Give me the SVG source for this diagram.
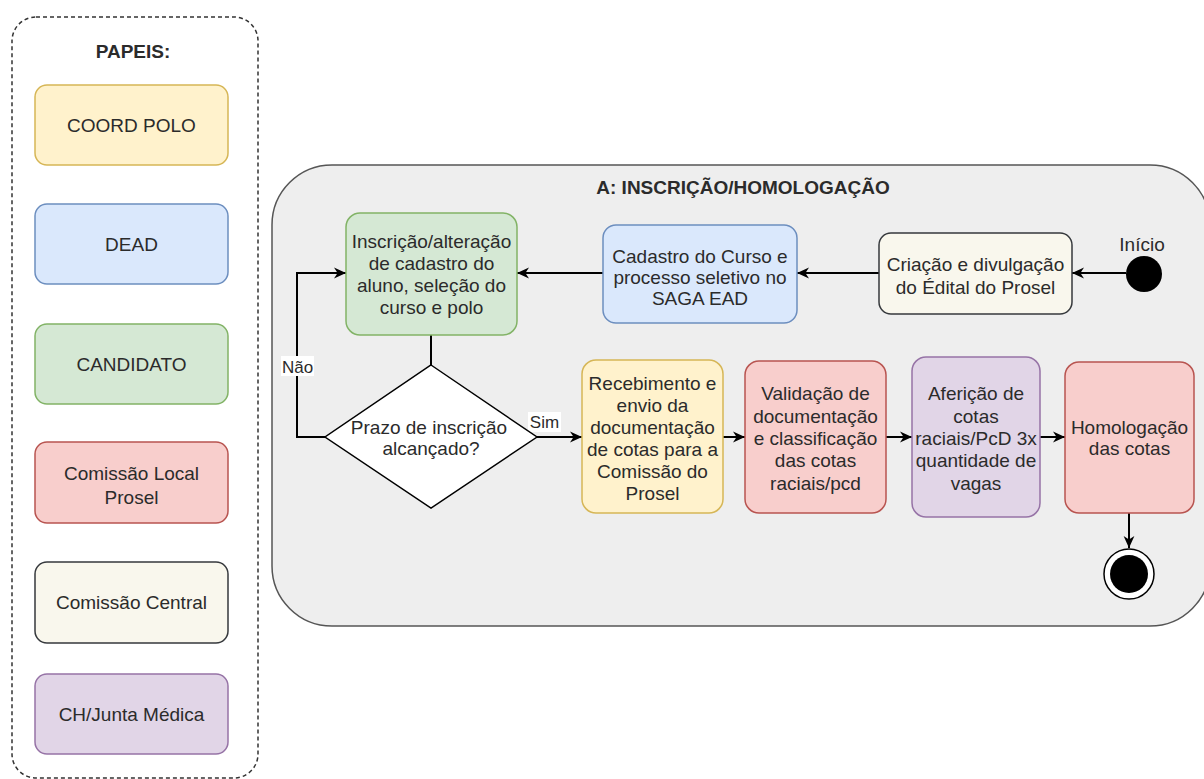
<svg xmlns="http://www.w3.org/2000/svg" width="1204" height="779" viewBox="0 0 1204 779">
<style>
text{font-family:"Liberation Sans",Arial,sans-serif;font-size:19px;fill:#2b2b2b;text-anchor:middle}
.b{font-weight:bold}
.lbl{font-size:17px}
.n{stroke-width:1.5}
.c{fill:none;stroke:#000;stroke-width:2}
.y{fill:#fff2cc;stroke:#d6b656}
.bl{fill:#dae8fc;stroke:#6c8ebf}
.g{fill:#d5e8d4;stroke:#82b366}
.r{fill:#f8cecc;stroke:#b85450}
.w{fill:#f9f7ed;stroke:#36393d}
.p{fill:#e1d5e7;stroke:#9673a6}
</style>
<defs>
<marker id="arr" viewBox="0 0 10 10" refX="10" refY="5" markerWidth="12" markerHeight="12" markerUnits="userSpaceOnUse" orient="auto">
<path d="M0,0.5 L10,5 L0,9.5 L3,5 z" fill="#000"/>
</marker>
</defs>
<rect width="1204" height="779" fill="#fff"/>
<g id="legend">
<rect x="12" y="17" width="246" height="761" rx="24" fill="none" stroke="#333" stroke-width="1.5" stroke-dasharray="4 3"/>
<text class="b" x="133" y="58">PAPEIS:</text>
</g>
<g id="role-coord"><rect class="y n" x="35" y="85" width="193" height="80" rx="12"/><text x="131.5" y="132">COORD POLO</text></g>
<g id="role-dead"><rect class="bl n" x="35" y="204" width="193" height="80" rx="12"/><text x="131.5" y="251">DEAD</text></g>
<g id="role-candidato"><rect class="g n" x="35" y="324" width="193" height="80" rx="12"/><text x="131.5" y="371">CANDIDATO</text></g>
<g id="role-local"><rect class="r n" x="35" y="442" width="193" height="81" rx="12"/><text x="131.5" y="480">Comissão Local</text><text x="131.5" y="504">Prosel</text></g>
<g id="role-central"><rect class="w n" x="35" y="562" width="193" height="81" rx="12"/><text x="131.5" y="609">Comissão Central</text></g>
<g id="role-ch"><rect class="p n" x="35" y="674" width="193" height="80" rx="12"/><text x="131.5" y="721">CH/Junta Médica</text></g>

<g id="container">
<rect x="272" y="165" width="938" height="461" rx="60" fill="#eeeeee" stroke="#555" stroke-width="1.5"/>
<text class="b" x="743" y="194">A: INSCRIÇÃO/HOMOLOGAÇÃO</text>
</g>

<g id="connectors">
<path class="c" d="M1126,273 L1072,273" marker-end="url(#arr)"/>
<path class="c" d="M879,273 L797,273" marker-end="url(#arr)"/>
<path class="c" d="M603,273 L517,273" marker-end="url(#arr)"/>
<path class="c" d="M431,335 L431,365"/>
<path class="c" d="M325,437 L297,437 L297,273 L346,273" marker-end="url(#arr)"/>
<path class="c" d="M537,437 L582,437" marker-end="url(#arr)"/>
<path class="c" d="M723,437 L745,437" marker-end="url(#arr)"/>
<path class="c" d="M886,437 L912,437" marker-end="url(#arr)"/>
<path class="c" d="M1040,437 L1065,437" marker-end="url(#arr)"/>
<path class="c" d="M1129,513 L1129,548" marker-end="url(#arr)"/>
<rect x="281" y="356" width="33" height="20" fill="#fff"/>
<text class="lbl" x="297.5" y="373">Não</text>
<rect x="528" y="412" width="33" height="20" fill="#fff"/>
<text class="lbl" x="544.5" y="428">Sim</text>
</g>

<g id="start"><circle cx="1144" cy="274" r="18" fill="#000"/><text x="1142" y="251">Início</text></g>
<g id="edital"><rect class="w n" x="879" y="233" width="193" height="81" rx="12"/><text x="975.5" y="271">Criação e divulgação</text><text x="975.5" y="294">do Édital do Prosel</text></g>
<g id="cadastro"><rect class="bl n" x="603" y="225" width="194" height="98" rx="13"/><text x="700" y="263">Cadastro do Curso e</text><text x="700" y="284">processo seletivo no</text><text x="700" y="305">SAGA EAD</text></g>
<g id="inscricao"><rect class="g n" x="346" y="213" width="171" height="122" rx="14"/><text x="431.5" y="248">Inscrição/alteração</text><text x="431.5" y="270">de cadastro do</text><text x="431.5" y="292">aluno, seleção do</text><text x="431.5" y="314">curso e polo</text></g>
<g id="prazo"><polygon points="431,365 537,437 431,508 325,437" fill="#fff" stroke="#000" stroke-width="1.5"/><text x="429" y="434">Prazo de inscrição</text><text x="431" y="455">alcançado?</text></g>
<g id="recebimento"><rect class="y n" x="582" y="360" width="141" height="153" rx="14"/><text x="652.5" y="390">Recebimento e</text><text x="652.5" y="412">envio da</text><text x="652.5" y="434">documentação</text><text x="652.5" y="456">de cotas para a</text><text x="652.5" y="478">Comissão do</text><text x="652.5" y="500">Prosel</text></g>
<g id="validacao"><rect class="r n" x="745" y="361" width="141" height="152" rx="14"/><text x="815.5" y="400">Validação de</text><text x="815.5" y="423">documentação</text><text x="815.5" y="445">e classificação</text><text x="815.5" y="467">das cotas</text><text x="815.5" y="490">raciais/pcd</text></g>
<g id="afericao"><rect class="p n" x="912" y="357" width="128" height="160" rx="14"/><text x="976" y="400">Aferição de</text><text x="976" y="423">cotas</text><text x="976" y="445">raciais/PcD 3x</text><text x="976" y="467">quantidade de</text><text x="976" y="490">vagas</text></g>
<g id="homologacao"><rect class="r n" x="1065" y="362" width="129" height="151" rx="14"/><text x="1129.5" y="434">Homologação</text><text x="1129.5" y="455">das cotas</text></g>
<g id="end"><circle cx="1129" cy="574" r="25" fill="#fff" stroke="#000" stroke-width="1.5"/><circle cx="1129" cy="574" r="19" fill="#000"/></g>
</svg>
